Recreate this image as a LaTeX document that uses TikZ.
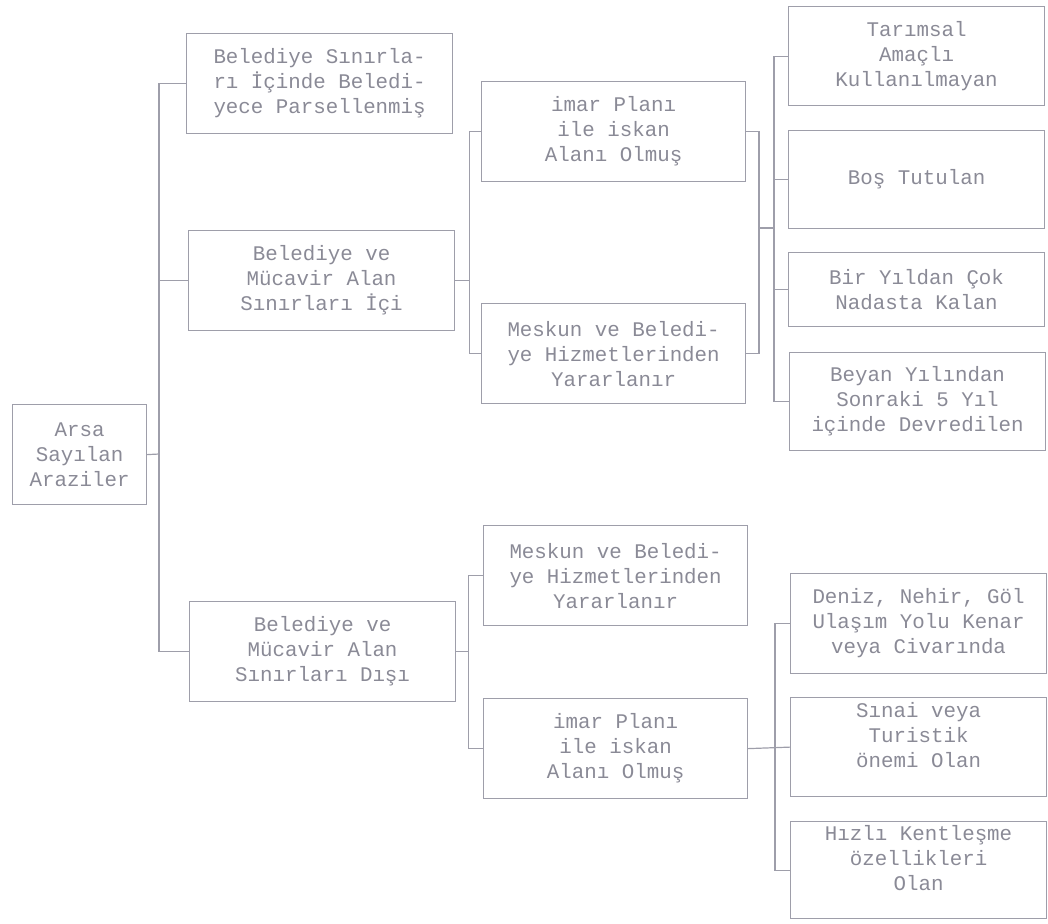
\documentclass[tikz,border=0pt]{standalone}
\usepackage{fontspec}
\setmonofont{Liberation Mono}
\usepackage{tikz}
\usetikzlibrary{calc, positioning}
\definecolor{murekkep}{RGB}{138,138,150}
\definecolor{cizgi}{RGB}{158,158,170}

\begin{document}
\begin{tikzpicture}[
		x=0.5pt, y=-0.5pt,
		kutu/.style={rectangle, draw=cizgi, line width=0.6pt, anchor=north west,
			align=center, inner sep=0pt, text=murekkep,
			font=\ttfamily\fontsize{10.4}{12.5}\selectfont},
		ana/.style={kutu, minimum width=67pt, minimum height=50pt},
		birinci/.style={kutu, minimum width=133pt, minimum height=50pt},
		ikinci/.style={kutu, minimum width=132pt, minimum height=50pt},
		ucuncu/.style={kutu, minimum width=128pt},
		hat/.style={draw=cizgi, line width=0.6pt},
	]
		\useasboundingbox (0,0) rectangle (1048,923);

		%Nodes
		\node[ana] (arsa) at (12,404) {Arsa\\Sayılan\\Araziler};

		\node[birinci] (sinir) at (186,33) {Belediye Sınırla-\\rı İçinde Beledi-\\yece Parsellenmiş};
		\node[birinci] (ici) at (188,230) {Belediye ve\\Mücavir Alan\\Sınırları İçi};
		\node[birinci] (disi) at (189,601) {Belediye ve\\Mücavir Alan\\Sınırları Dışı};

		\node[ikinci] (imarust) at (481,81) {imar Planı\\ile iskan\\Alanı Olmuş};
		\node[ikinci] (meskunust) at (481,303) {Meskun ve Beledi-\\ye Hizmetlerinden\\Yararlanır};
		\node[ikinci] (meskunalt) at (483,525) {Meskun ve Beledi-\\ye Hizmetlerinden\\Yararlanır};
		\node[ikinci] (imaralt) at (483,698) {imar Planı\\ile iskan\\Alanı Olmuş};

		\node[ucuncu, minimum height=49.5pt] (tarim) at (788,6) {Tarımsal\\Amaçlı\\Kullanılmayan};
		\node[ucuncu, minimum height=49pt] (bos) at (788,130) {Boş Tutulan};
		\node[ucuncu, minimum height=37pt] (nadas) at (788,252) {Bir Yıldan Çok\\Nadasta Kalan};
		\node[ucuncu, minimum height=49pt] (beyan) at (789,352) {Beyan Yılından\\Sonraki 5 Yıl\\içinde Devredilen};

		\node[ucuncu, minimum height=50pt] (deniz) at (790,573) {Deniz, Nehir, Göl\\Ulaşım Yolu Kenar\\veya Civarında};
		\node[ucuncu, minimum height=49.5pt] (sinai) at (790,697) {Sınai veya\\Turistik\\önemi Olan\\\mbox{}};
		\node[ucuncu, minimum height=48.5pt] (hizli) at (790,821) {Hızlı Kentleşme\\özellikleri\\Olan\\\mbox{}};

		%Lines
		\coordinate (g1) at (159,454);
		\draw[hat] (arsa.east) -- (g1);
		\draw[hat] (sinir.west) -| (g1) |- (disi.west);
		\draw[hat] (ici.west) -- (ici.west -| g1);

		\coordinate (g2) at ($(ici.east)+(14,0)$);
		\draw[hat] (imarust.west) -| (g2) |- (meskunust.west);
		\draw[hat] (ici.east) -- (g2);

		\coordinate (g3) at (759,228);
		\coordinate (g4) at (774,228);
		\draw[hat] (imarust.east) -| (g3) |- (meskunust.east);
		\draw[hat] (g3) -- (g4);
		\draw[hat] (tarim.west) -| (g4) |- (beyan.west);
		\draw[hat] (bos.west) -- (bos.west -| g4);
		\draw[hat] (nadas.west) -- (nadas.west -| g4);

		\coordinate (g5) at ($(disi.east)+(12,0)$);
		\draw[hat] (disi.east) -- (g5);
		\draw[hat] (meskunalt.west) -| (g5) |- (imaralt.west);

		\coordinate (g6) at (775,748);
		\draw[hat] (imaralt.east) -- (sinai.west);
		\draw[hat] (deniz.west) -| (g6) |- (hizli.west);
	\end{tikzpicture}
\end{document}
